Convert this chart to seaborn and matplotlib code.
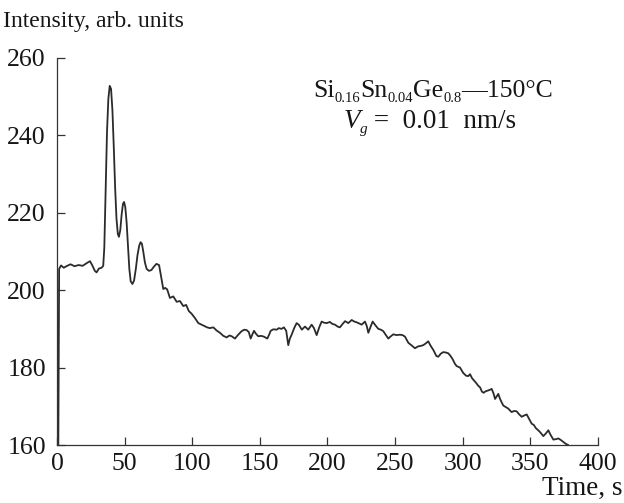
import numpy as np
import pandas as pd
import matplotlib
matplotlib.use("Agg")
import matplotlib.pyplot as plt
import seaborn as sns

# time (s) and intensity (arb. units)
time_s = [
    1.0, 1.6, 3, 5, 7, 10, 13, 16, 19, 22, 24.4, 26, 28, 29.3, 31, 33, 34.2,
    35.0, 36.0, 37.0, 38.0, 39.0, 40.0, 41.0, 42.0, 43.0, 44.0, 45.0, 45.8,
    46.8, 47.8, 48.8, 49.6, 50.5, 51.5, 52.5, 53.5, 54.5, 55.8, 57.0, 58.3,
    59.5, 60.8, 61.8, 62.8, 63.8, 65.0, 66.3, 68, 69.8, 71.5, 73.5,
    75.5, 77, 78.6, 80, 81.5, 83.5, 86, 88.5, 90.9, 93.4, 95.5, 97.5, 99.6,
    102, 104.5, 108, 111, 113, 115.6, 118, 120.5, 123, 125.5, 127.5, 129.2,
    131.6, 134, 136.5, 138.5, 140.2, 141.8, 143.2, 144.5, 145.7, 147, 148.8,
    151, 153, 155.5, 157, 158, 160, 162.4, 164, 166, 167.8, 169.5, 171,
    172.2, 173.5, 175.5, 177.2, 179, 181, 183.4, 185.8, 188.3, 190, 192,
    194, 195.7, 197.5, 199.4, 201.8, 203.5, 205.5, 207.5, 209.2, 211, 213,
    215.4, 217.9, 219.8, 221.6, 223.5, 225.3, 227.7, 229, 230.2, 231.8,
    233.4, 235.5, 237.6, 239.5, 241.3, 243, 245, 246.5, 248.7, 251, 253.6,
    255.5, 257.3, 259.8, 262, 264.7, 267.1, 269, 270.8, 272.5, 274.5, 276.5,
    278.2, 280.5, 281.9, 283.8, 285.6, 287.5, 289.3, 291, 292.5, 294.2,
    295.5, 298, 300.4, 302.5, 304.1, 305.4, 307, 308.5, 310, 311.5, 312.8,
    314.2, 315.5, 317, 318.9, 320.3, 321.4, 322.8, 323.9, 325.2, 326.3,
    327.5, 328.8, 330, 331.8, 333.7, 335, 336.2, 338, 339.9, 341.5, 343.6,
    345.3, 347.3, 349, 351, 352.5, 354.2, 355.9, 357.5, 359.6, 361.5, 363.3,
    365, 367, 368.8, 370.7, 372.5, 374.4, 376.2, 378,
]
intensity = [
    160.0, 205.5, 206.4, 205.8, 206.2, 206.7, 206.2, 206.5, 206.3, 207.0,
    207.5, 206.5, 205.0, 204.6, 205.6, 205.8, 206.3,
    211.0, 226.0, 241.0, 249.5, 252.8, 252.0, 246.5, 237.0, 226.5, 218.5,
    214.5, 213.8, 215.5, 219.5, 222.3, 222.8, 221.5, 217.5, 211.5, 205.5,
    202.3, 201.6, 202.5, 205.5, 209.0, 211.5, 212.4, 212.0, 210.0, 207.2,
    205.5, 205.0, 205.2, 206.0, 206.8,
    206.5, 203.5, 200.3, 200.6, 200.2, 198.0, 198.4,
    197.0, 197.2, 195.9, 196.2, 194.6, 193.9, 192.8, 191.5, 190.9, 190.4,
    190.2, 190.4, 189.6, 189.0, 188.2, 187.8, 188.3, 188.1, 187.5, 188.5,
    189.4, 189.8, 189.7, 189.2, 187.5, 188.6, 189.5, 188.8, 188.1, 188.2,
    188.0, 187.5, 188.6, 189.5, 189.9, 189.8, 190.2, 190.0, 190.4, 189.5,
    185.8, 187.5, 188.5, 190.3, 191.5, 191.0, 189.8, 190.6, 189.8, 191.1,
    190.2, 188.4, 190.5, 191.9, 191.6, 191.5, 191.8, 191.3, 191.1, 190.6,
    190.4, 191.2, 192.0, 191.5, 192.3, 191.9, 191.7, 191.4, 191.1, 191.9,
    190.8, 189.0, 190.5, 191.9, 190.9, 190.0, 189.8, 189.4, 188.5, 187.5,
    188.0, 188.6, 188.4, 188.5, 188.4, 188.0, 186.4, 185.8, 185.0, 185.5,
    185.6, 185.8, 186.2, 186.8, 185.5, 184.6, 183.0, 182.8, 183.6, 184.0,
    183.9, 183.7, 183.0, 182.2, 181.0, 180.4, 180.0, 178.6, 177.9, 177.8,
    178.3, 177.2, 176.6, 176.0, 175.3, 174.9, 173.8, 173.5, 173.9, 174.1,
    174.3, 174.5, 173.3, 171.9, 172.6, 173.2, 172.0, 171.0, 170.2, 169.8,
    169.4, 168.9, 168.5, 168.8, 168.7, 168.0, 167.3, 167.6, 167.9, 166.8,
    165.5, 165.2, 164.3, 163.8, 163.2, 162.3, 163.0, 163.8, 162.6, 161.4,
    161.5, 161.7, 161.3, 160.8, 160.3, 160.0,
]

x_ticks = [0, 50, 100, 150, 200, 250, 300, 350, 400]
y_ticks = [160, 180, 200, 220, 240, 260]

sns.set_style("ticks")
plt.rcParams["font.family"] = ["Liberation Serif", "DejaVu Serif"]

TXT = "#161616"

df = pd.DataFrame({"time": time_s, "intensity": intensity})

fig = plt.figure(figsize=(6.24, 5.03), dpi=100)
ax = fig.add_axes([0.0913, 0.1153, 0.867, 0.7694])

sns.lineplot(data=df, x="time", y="intensity", color="#2b2b2b",
             linewidth=1.3, sort=False, estimator=None, ax=ax)

ax.set_xlim(0, 400)
ax.set_ylim(160, 260)
ax.set_xticks(x_ticks)
ax.set_yticks(y_ticks)
ax.set_xlabel("")
ax.set_ylabel("")
sns.despine(ax=ax)
for side in ["left", "bottom"]:
    ax.spines[side].set_linewidth(0.9)
    ax.spines[side].set_color("#333333")
ax.tick_params(direction="in", length=6, width=0.9, colors="#333333",
               labelcolor=TXT, labelsize=18.5)
ax.tick_params(axis="x", pad=6)
ax.tick_params(axis="y", pad=8)

fig.text(0.005, 0.957, "Intensity, arb. units", fontsize=17,
         ha="left", va="center", color=TXT)
fig.text(0.998, 0.03, "Time, s", fontsize=19.5, ha="right",
         va="center", color=TXT)


def write_pieces(x0, y0, pieces):
    # lay text pieces left to right, subscripts smaller and lowered
    fig.canvas.draw()
    renderer = fig.canvas.get_renderer()
    x = x0
    for s, size, dy, style in pieces:
        t = fig.text(x, y0 + dy / fig.bbox.height, s, fontsize=size,
                     style=style, ha="left", va="baseline", color=TXT)
        w = t.get_window_extent(renderer).width
        x += w / fig.bbox.width


write_pieces(0.502, 0.807, [
    ("Si", 18.5, 0, "normal"), ("0.16", 10.5, -5, "normal"),
    ("Sn", 18.5, 0, "normal"), ("0.04", 10.5, -5, "normal"),
    ("Ge", 18.5, 0, "normal"), ("0.8", 10.5, -5, "normal"),
    ("—150°C", 18.5, 0, "normal"),
])
write_pieces(0.55, 0.745, [
    ("V", 19.5, 0, "italic"), ("g", 11, -5, "italic"),
    (" =  0.01  nm/s", 19.5, 0, "normal"),
])

fig.savefig("out.png", dpi=100)
